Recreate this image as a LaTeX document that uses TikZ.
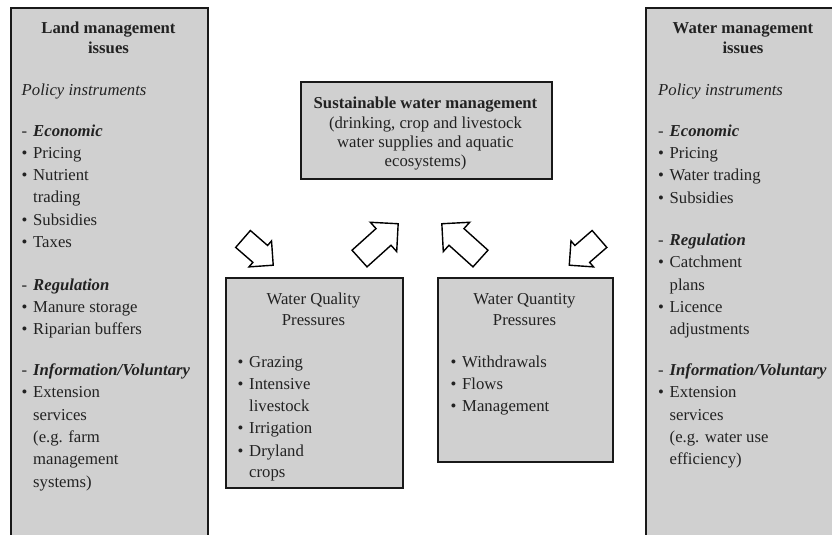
\documentclass[tikz,border=0pt]{standalone}
\usepackage{fontspec}
\setmainfont{Liberation Serif}
\usetikzlibrary{shapes.arrows}

\definecolor{boxfill}{RGB}{208,208,208}
\definecolor{inkc}{RGB}{34,34,34}

% bullet and dash prefixes for the list lines
\newcommand\bul{\makebox[11.5pt][l]{•}}
\newcommand\ind{\hspace*{11.5pt}}
\newcommand\hd[1]{\makebox[11.5pt][l]{-}\textbf{\textit{#1}}}

\tikzset{
  panel/.style={draw=black!90, line width=1.8pt, fill=boxfill, rectangle,
                inner sep=0pt, anchor=north west},
  txt/.style={inner sep=0pt, text=inkc, font=\fontsize{16.7}{20}\selectfont},
  ln/.style={txt, anchor=base west},
  ctr/.style={txt, anchor=base},
  blk/.style 2 args={single arrow, draw=black, fill=white, line width=1.4pt,
              inner xsep=0pt, inner ysep=10.5pt, minimum height=#1,
              single arrow head extend=#2, anchor=tail},
}

\begin{document}
\begin{tikzpicture}[x=1pt,y=-1pt]
\useasboundingbox (0,0) rectangle (832,535);
\fill[white] (0,0) rectangle (832,535);

% side panels run past the lower (and right) edge
\begin{scope}
  \clip (0,0) rectangle (832,535);
  \node[panel, minimum width=197pt, minimum height=560pt] (land) at (10,7) {};
  \node[panel, minimum width=196pt, minimum height=560pt] (water) at (645,7) {};
\end{scope}

% central boxes
\node[panel, minimum width=251pt, minimum height=97pt] (swm) at (300,81) {};
\node[panel, minimum width=177pt, minimum height=210pt] (qual) at (225,277) {};
\node[panel, minimum width=175pt, minimum height=184pt] (quan) at (437,277) {};

% land management panel
\node[ctr, font=\fontsize{16.7}{20}\selectfont\bfseries] (landT1) at (108.5,34) {Land management};
\node[ctr, font=\fontsize{16.7}{20}\selectfont\bfseries] (landT2) at (108.5,53) {issues};
\foreach \yy/\tx [count=\i] in {
   95/{\textit{Policy instruments}},
  136/{\hd{Economic}},
  158/{\bul Pricing},
  180/{\bul Nutrient},
  202/{\ind trading},
  225/{\bul Subsidies},
  247/{\bul Taxes},
  290/{\hd{Regulation}},
  312/{\bul Manure storage},
  334/{\bul Riparian buffers},
  375/{\hd{Information/Voluntary}},
  397/{\bul Extension},
  420/{\ind services},
  442/{\ind (e.g. farm},
  464/{\ind management},
  487/{\ind systems)}}
  \node[ln] (land\i) at (21.5,\yy) {\tx};

% water management panel
\node[ctr, font=\fontsize{16.7}{20}\selectfont\bfseries] (waterT1) at (743,34) {Water management};
\node[ctr, font=\fontsize{16.7}{20}\selectfont\bfseries] (waterT2) at (743,53) {issues};
\foreach \yy/\tx [count=\i] in {
   95/{\textit{Policy instruments}},
  136/{\hd{Economic}},
  158/{\bul Pricing},
  180/{\bul Water trading},
  203/{\bul Subsidies},
  245/{\hd{Regulation}},
  267/{\bul Catchment},
  290/{\ind plans},
  312/{\bul Licence},
  334/{\ind adjustments},
  375/{\hd{Information/Voluntary}},
  397/{\bul Extension},
  420/{\ind services},
  442/{\ind (e.g. water use},
  464/{\ind efficiency)}}
  \node[ln] (water\i) at (658,\yy) {\tx};

% sustainable water management
\node[ctr, font=\fontsize{16.7}{20}\selectfont\bfseries] (swm1) at (425.5,108) {Sustainable water management};
\node[ctr] (swm2) at (425.5,128) {(drinking, crop and livestock};
\node[ctr] (swm3) at (425.5,147) {water supplies and aquatic};
\node[ctr] (swm4) at (425.5,166) {ecosystems)};

% water quality pressures
\node[ctr] (qualT1) at (313.5,304) {Water Quality};
\node[ctr] (qualT2) at (313.5,325) {Pressures};
\foreach \yy/\tx [count=\i] in {
  367/{\bul Grazing},
  389/{\bul Intensive},
  411/{\ind livestock},
  433/{\bul Irrigation},
  456/{\bul Dryland},
  477/{\ind crops}}
  \node[ln] (qual\i) at (237.5,\yy) {\tx};

% water quantity pressures
\node[ctr] (quanT1) at (524.5,304) {Water Quantity};
\node[ctr] (quanT2) at (524.5,325) {Pressures};
\foreach \yy/\tx [count=\i] in {
  367/{\bul Withdrawals},
  389/{\bul Flows},
  411/{\bul Management}}
  \node[ln] (quan\i) at (450.5,\yy) {\tx};

% block arrows: land -> quality -> swm <- quantity <- water
\coordinate (a1) at (242.5,238.5);
\coordinate (a2) at (359,259);
\coordinate (a3) at (481,259);
\coordinate (a4) at (600,238.5);
\node[blk={40pt}{6pt}, rotate=-41]  (arrLand)  at (a1) {};
\node[blk={52pt}{8.5pt}, rotate=42]   (arrQual)  at (a2) {};
\node[blk={52pt}{8.5pt}, rotate=138]  (arrQuan)  at (a3) {};
\node[blk={40pt}{6pt}, rotate=-139] (arrWater) at (a4) {};
\end{tikzpicture}
\end{document}
